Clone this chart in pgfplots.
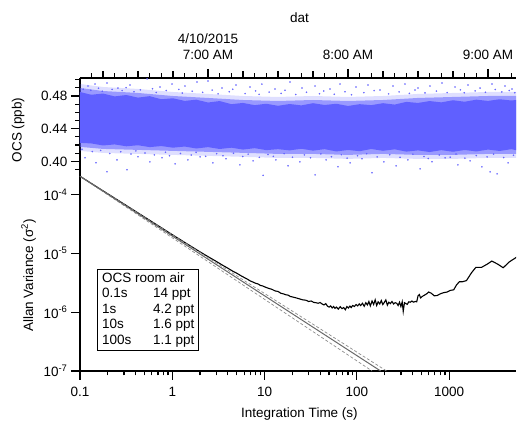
\documentclass[border=0pt]{standalone}
\usepackage{pgfplots}
\pgfplotsset{compat=1.18}
\usepackage{fontspec}
\setmainfont{Liberation Sans}
\definecolor{ocsblue}{RGB}{96,96,255}
\definecolor{fitgray}{RGB}{105,105,105}
\definecolor{bandgray}{RGB}{140,140,140}

\begin{document}
\begin{tikzpicture}
\path (0pt,0pt) rectangle (517pt,421pt);
\pgfplotsset{
  every axis/.append style={
    font=\fontsize{13.5}{15.5}\selectfont,
    scale only axis, width=436pt,
    axis line style={line width=1.2pt},
    every tick/.style={black, line width=1.2pt},
    tick align=outside,
    major tick length=9pt, minor tick length=4.5pt,
  },
}

% ---- top panel: OCS time series (minutes after 6:00 AM)
\begin{axis}[
  at={(80pt,245pt)}, anchor=south west, height=98pt,
  xmin=5.143, xmax=192.0, ymin=0.3822, ymax=0.502,
  axis x line*=top, axis y line*=left,
  xtick={60,120,180},
  xticklabels={{4/10/2015\\7:00 AM},{8:00 AM},{9:00 AM}},
  xticklabel style={align=center, yshift=6pt},
  minor xtick={10,20,25,35,40,50,55,65,70,80,85,95,100,110,115,125,130,140,145,155,160,170,175,185,190},
  extra x ticks={15,30,45,75,90,105,135,150,165},
  extra x tick labels={},
  extra x tick style={major tick length=7pt},
  ytick={0.40,0.44,0.48}, yticklabels={0.40,0.44,0.48},
  minor ytick={0.39,0.41,0.42,0.43,0.45,0.46,0.47,0.49,0.50},
  xlabel={dat},
  xlabel style={at={(axis description cs:0.5034,1)}, anchor=base, yshift=55pt},
  ylabel={OCS (ppb)},
  ylabel style={at={(axis description cs:-0.134,0.47)}, anchor=base},
]
% outer fringe
\addplot[fill=ocsblue, fill opacity=0.2, draw=none] coordinates {
  (5.14,0.4947) (15,0.4910) (30,0.4886) (45,0.4849) (60,0.4825) (75,0.4800)
  (90,0.4788) (105,0.4800) (120,0.4788) (135,0.4800) (150,0.4825) (165,0.4837)
  (180,0.4849) (192.43,0.4849)
  (192.43,0.4043) (180,0.4043) (165,0.4031) (150,0.4031) (135,0.4043) (120,0.4031)
  (105,0.4043) (90,0.4043) (75,0.4056) (60,0.4068) (45,0.4080) (30,0.4092)
  (15,0.4104) (5.14,0.4129)
};
% inner fringe
\addplot[fill=ocsblue, fill opacity=0.55, draw=none] coordinates {
  (5.14,0.4898) (15,0.4861) (30,0.4837) (45,0.4800) (60,0.4776) (75,0.4751)
  (90,0.4739) (105,0.4751) (120,0.4739) (135,0.4751) (150,0.4776) (165,0.4788)
  (180,0.4800) (192.43,0.4800)
  (192.43,0.4092) (180,0.4092) (165,0.4080) (150,0.4080) (135,0.4092) (120,0.4080)
  (105,0.4092) (90,0.4092) (75,0.4105) (60,0.4117) (45,0.4129) (30,0.4141)
  (15,0.4153) (5.14,0.4178)
};
% dense core of the scatter
\addplot[fill=ocsblue, draw=none] coordinates {
  (5.14,0.4849) (10,0.4815) (15,0.4830) (20,0.4795) (25,0.4812) (30,0.4780)
  (35,0.4798) (40,0.4760) (45,0.4772) (50,0.4740) (55,0.4755) (60,0.4720)
  (65,0.4738) (70,0.4700) (75,0.4715) (80,0.4688) (85,0.4705) (90,0.4680)
  (95,0.4702) (100,0.4685) (105,0.4712) (110,0.4690) (115,0.4705) (120,0.4678)
  (125,0.4700) (130,0.4688) (135,0.4712) (140,0.4695) (145,0.4728) (150,0.4715)
  (155,0.4738) (160,0.4722) (165,0.4748) (170,0.4730) (175,0.4755) (180,0.4740)
  (185,0.4760) (190,0.4745) (192.43,0.4752)
  (192.43,0.4135) (190,0.4150) (185,0.4128) (180,0.4145) (175,0.4122) (170,0.4140)
  (165,0.4118) (160,0.4138) (155,0.4115) (150,0.4135) (145,0.4120) (140,0.4148)
  (135,0.4130) (130,0.4152) (125,0.4125) (120,0.4140) (115,0.4122) (110,0.4150)
  (105,0.4132) (100,0.4155) (95,0.4135) (90,0.4150) (85,0.4138) (80,0.4162)
  (75,0.4145) (70,0.4168) (65,0.4152) (60,0.4175) (55,0.4158) (50,0.4182)
  (45,0.4168) (40,0.4188) (35,0.4175) (30,0.4198) (25,0.4185) (20,0.4208)
  (15,0.4195) (10,0.4220) (5.14,0.4227)
};
% points just outside the dense core
\addplot[only marks, mark=*, mark size=0.6pt, ocsblue, opacity=0.85] coordinates {
  (6.5,0.4882) (9.8,0.4870) (13.1,0.4895) (14.7,0.4858) (18.9,0.4880)
  (23.2,0.4866) (24.9,0.4902) (28.3,0.4851) (31.0,0.4875) (36.2,0.4889)
  (37.8,0.4843) (42.1,0.4866) (47.5,0.4880) (49.0,0.4836) (53.2,0.4858)
  (57.7,0.4845) (61.8,0.4872) (64.3,0.4826) (69.1,0.4851) (70.6,0.4883)
  (75.9,0.4830) (80.4,0.4862) (81.9,0.4820) (86.2,0.4848) (91.3,0.4832)
  (93.0,0.4870) (97.6,0.4818) (102.2,0.4845) (107.8,0.4828) (109.6,0.4861)
  (114.1,0.4822) (118.7,0.4852) (121.5,0.4815) (126.8,0.4840) (131.2,0.4866)
  (137.4,0.4826) (141.9,0.4850) (146.3,0.4832) (148.7,0.4874) (153.0,0.4838)
  (157.9,0.4860) (162.5,0.4842) (168.2,0.4875) (169.8,0.4840) (174.5,0.4862)
  (178.9,0.4845) (183.1,0.4880) (185.9,0.4850) (189.1,0.4868) (191.5,0.4840)
  (6.0,0.4150) (10.4,0.4120) (14.0,0.4135) (17.9,0.4098) (22.6,0.4118)
  (27.0,0.4090) (29.1,0.4128) (33.0,0.4103) (37.0,0.4080) (41.8,0.4112)
  (43.5,0.4070) (48.2,0.4098) (52.8,0.4078) (54.9,0.4110) (59.0,0.4062)
  (63.7,0.4095) (66.4,0.4070) (70.9,0.4100) (74.9,0.4060) (77.2,0.4088)
  (82.0,0.4050) (85.7,0.4085) (88.0,0.4062) (92.6,0.4095) (96.2,0.4052)
  (101.3,0.4080) (103.9,0.4045) (108.4,0.4092) (112.9,0.4058) (117.2,0.4083)
  (119.6,0.4040) (124.1,0.4070) (128.0,0.4095) (132.5,0.4055) (137.9,0.4082)
  (142.3,0.4050) (147.8,0.4088) (152.6,0.4060) (154.4,0.4035) (159.1,0.4078)
  (163.8,0.4052) (166.3,0.4090) (170.1,0.4040) (175.0,0.4072) (179.6,0.4055)
  (182.4,0.4090) (186.7,0.4048) (190.9,0.4075)
};
% isolated outliers
\addplot[only marks, mark=*, mark size=0.6pt, ocsblue, opacity=0.85] coordinates {
  (8.6,0.4922) (11.6,0.4946) (16.7,0.4958) (21.4,0.4897) (26.6,0.4934)
  (33.9,0.5010) (39.4,0.4910) (44.6,0.4946) (50.1,0.4922) (55.3,0.4971)
  (60,0.4983) (66,0.4897) (72,0.4934) (78,0.4910) (83.1,0.4946)
  (88.7,0.4885) (95.1,0.4971) (100.3,0.4897) (105.9,0.4922) (112.3,0.4885)
  (116.6,0.4946) (123.4,0.4910) (128.6,0.4934) (133.7,0.4873) (139.3,0.4922)
  (144.4,0.4946) (150,0.4897) (155.1,0.4922) (160.3,0.4958) (165.9,0.4910)
  (171.4,0.4934) (176.6,0.4897) (181.7,0.4946) (187.3,0.4922) (190.3,0.4885)
  (7.3,0.4044) (12.0,0.3983) (16.7,0.3873) (21.0,0.4019) (25.3,0.3898)
  (30,0.4056) (35.1,0.3995) (40.3,0.4044) (45.9,0.3971) (51.4,0.4019)
  (56.6,0.4056) (62.1,0.3983) (67.7,0.4032) (73.7,0.3958) (79.3,0.4007)
  (83.6,0.3830) (89.1,0.4019) (94.3,0.3946) (99.4,0.3995) (105.9,0.3836)
  (110.6,0.4019) (115.7,0.3934) (120.9,0.3983) (126,0.4032) (130.3,0.3861)
  (135.4,0.3995) (140.6,0.3946) (145.7,0.4019) (150.9,0.3910) (156,0.3995)
  (161.6,0.4044) (167.1,0.3958) (172.3,0.4007) (177.4,0.3934) (180.9,0.3873)
  (183.9,0.3849) (188.6,0.3983)
};
\end{axis}

% ---- bottom panel: Allan variance
\begin{axis}[
  at={(80pt,50pt)}, anchor=south west, height=195pt,
  xmode=log, ymode=log,
  xmin=0.1, xmax=5300, ymin=1e-7, ymax=2.07e-4,
  axis x line*=bottom, axis y line*=left,
  xtick={0.1,1,10,100,1000}, xticklabels={0.1,1,10,100,1000},
  xticklabel style={yshift=-4pt},
  ytick={1e-7,1e-6,1e-5,1e-4},
  yticklabels={10\textsuperscript{-7},10\textsuperscript{-6},10\textsuperscript{-5},10\textsuperscript{-4}},
  yminorticks=false,
  xlabel={Integration Time (s)},
  xlabel style={at={(axis description cs:0.5034,0)}, anchor=base, yshift=-46pt},
  ylabel={Allan Variance (σ\textsuperscript{2})},
  ylabel style={at={(axis description cs:-0.1076,0.49)}, anchor=base},
]
\addplot[black, line width=1.1pt] coordinates {
  (0.1,2.05e-4) (0.15,1.37e-4) (0.2,1.03e-4) (0.3,6.9e-5) (0.5,4.15e-5)
  (0.7,2.97e-5) (1,2.08e-5) (1.5,1.40e-5) (2,1.06e-5) (2.5,8.6e-6)
  (3,7.3e-6) (3.5,6.3e-6) (4,5.6e-6) (4.5,5.0e-6) (5,4.6e-6)
  (5.5,4.2e-6) (6,3.9e-6) (6.5,3.65e-6) (7,3.4e-6) (7.5,3.25e-6)
  (8,3.1e-6) (8.5,3.02e-6) (9,2.85e-6) (9.5,2.8e-6) (10,2.7e-6)
  (11,2.55e-6) (12,2.45e-6) (13,2.3e-6) (14,2.25e-6) (15,2.1e-6)
  (16,2.05e-6) (17,1.98e-6) (18,1.95e-6) (19,1.85e-6) (20,1.82e-6)
  (22,1.75e-6) (24,1.68e-6) (26,1.62e-6) (28,1.6e-6) (30,1.52e-6)
  (32,1.55e-6) (34,1.47e-6) (36,1.45e-6) (38,1.42e-6) (40,1.46e-6)
  (42,1.38e-6) (44,1.33e-6) (46,1.40e-6) (48,1.27e-6) (50,1.22e-6)
  (52,1.28e-6) (54,1.18e-6) (56,1.25e-6) (58,1.16e-6) (60,1.22e-6)
  (63,1.13e-6) (66,1.24e-6) (69,1.15e-6) (72,1.20e-6) (75,1.10e-6)
  (78,1.25e-6) (81,1.18e-6) (84,1.27e-6) (87,1.20e-6) (90,1.30e-6)
  (94,1.25e-6) (98,1.35e-6) (102,1.28e-6) (106,1.38e-6) (110,1.30e-6)
  (115,1.42e-6) (120,1.26e-6) (125,1.45e-6) (130,1.33e-6) (135,1.52e-6)
  (140,1.28e-6) (146,1.55e-6) (152,1.35e-6) (158,1.62e-6) (164,1.30e-6)
  (170,1.50e-6) (177,1.38e-6) (184,1.58e-6) (191,1.35e-6) (198,1.46e-6)
  (206,1.62e-6) (214,1.32e-6) (222,1.48e-6) (231,1.40e-6) (240,1.52e-6)
  (250,1.38e-6) (260,1.45e-6) (270,1.42e-6) (280,1.30e-6) (290,1.48e-6)
  (300,1.25e-6) (310,1.50e-6) (318,1.03e-6) (328,1.45e-6) (340,1.40e-6)
  (352,1.36e-6) (365,1.50e-6) (380,1.48e-6) (395,1.55e-6) (410,1.48e-6)
  (430,1.52e-6) (445,1.50e-6) (460,1.90e-6) (475,2.0e-6) (490,1.75e-6)
  (510,1.85e-6) (540,1.95e-6) (570,2.05e-6) (600,2.2e-6) (640,2.1e-6)
  (690,1.90e-6) (740,1.92e-6) (800,2.05e-6) (870,2.15e-6) (950,2.2e-6)
  (1030,2.35e-6) (1120,2.4e-6) (1200,2.9e-6) (1290,3.3e-6) (1400,3.3e-6)
  (1540,3.45e-6) (1750,4.7e-6) (1950,5.8e-6) (2250,5.8e-6) (2600,6.6e-6)
  (2900,7.4e-6) (3400,6.5e-6) (3850,5.7e-6) (4500,7.2e-6) (5428,8.7e-6)
};
\addplot[bandgray, densely dashed, line width=0.7pt] coordinates {(0.1,2.05e-4) (210,1e-7)};
\addplot[bandgray, densely dashed, line width=0.7pt] coordinates {(0.1,2.05e-4) (146,1e-7)};
\addplot[fitgray, line width=1pt] coordinates {(0.1,2.05e-4) (181,1e-7)};
\node[draw=black, line width=1.2pt, fill=white, anchor=north west,
      inner xsep=4.5pt, inner ysep=3pt, align=left,
      font=\fontsize{13.5}{15.5}\selectfont]
  at (rel axis cs:0.0389,0.523)
  {OCS room air\\
   \makebox[51pt][l]{0.1s}14 ppt\\
   \makebox[51pt][l]{1s}4.2 ppt\\
   \makebox[51pt][l]{10s}1.6 ppt\\
   \makebox[51pt][l]{100s}1.1 ppt};
\end{axis}
\end{tikzpicture}
\end{document}
